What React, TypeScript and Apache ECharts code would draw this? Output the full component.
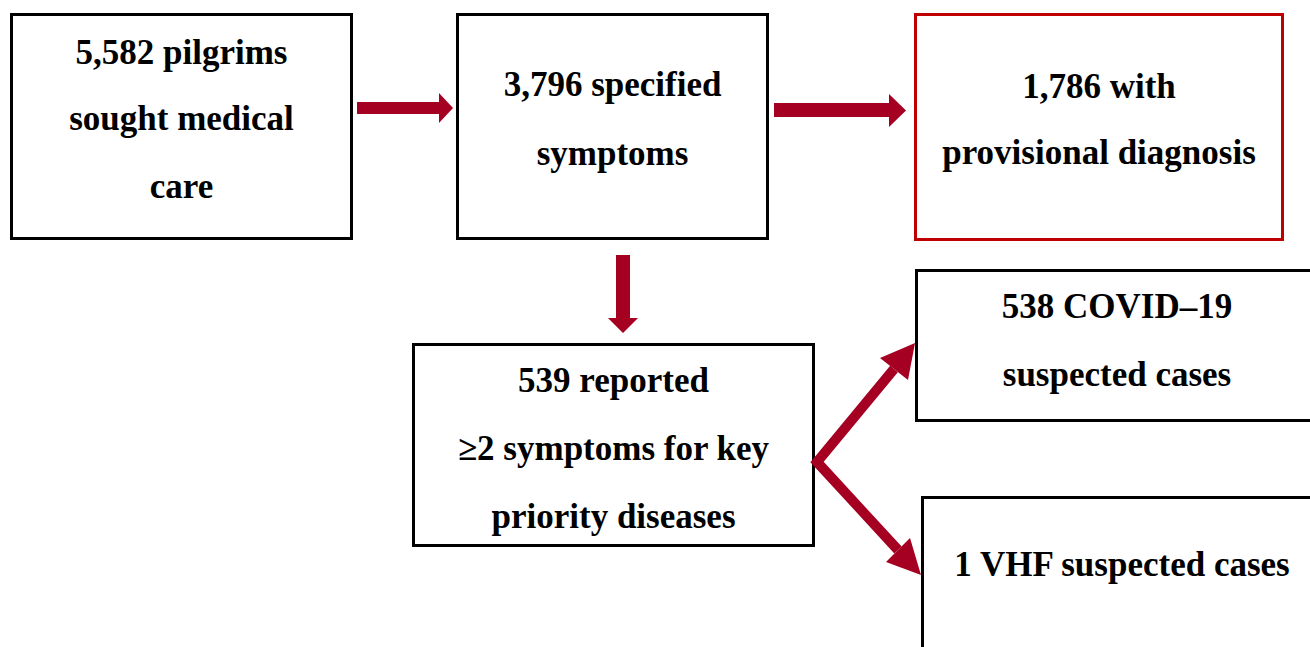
import React, { useEffect, useRef } from "react";
import * as echarts from "echarts";

// Flow chart content
const boxTexts: string[][] = [
  ["5,582 pilgrims", "sought medical", "care"],
  ["3,796 specified", "symptoms"],
  ["1,786 with", "provisional diagnosis"],
  ["539 reported", "\u22652 symptoms for key", "priority diseases"],
  ["538 COVID\u201319", "suspected cases"],
  ["1 VHF suspected cases"],
];
const boxBorderColors = ["#000", "#000", "#c00000", "#000", "#000", "#000"];

// Layout (pixels)
const boxRects = [
  [11.5, 14.5, 340, 224],
  [457.5, 14.5, 310, 224],
  [915.5, 14.5, 367, 225],
  [413.5, 344.5, 400, 201],
  [916.5, 270.5, 410, 150],
  [922.5, 497.5, 410, 200],
];
const lineYs = [
  [52, 118, 186],
  [84, 153],
  [86, 152],
  [380, 448, 516],
  [306, 374],
  [564],
];
const textXs = [181.5, 612.5, 1099, 613.5, 1117, 1122];

const ARROW = "#a50021";

export default function App() {
  const ref = useRef<HTMLDivElement>(null);
  useEffect(() => {
    if (!ref.current) return;
    const chart = echarts.init(ref.current, undefined, { renderer: "svg" });
    const elements: any[] = [];
    boxRects.forEach((r, i) => {
      elements.push({
        type: "rect",
        shape: { x: r[0], y: r[1], width: r[2], height: r[3] },
        style: { fill: "#fff", stroke: boxBorderColors[i], lineWidth: 3 },
      });
    });
    // arrows
    elements.push({
      type: "polygon",
      shape: {
        points: [[357, 102], [439, 102], [439, 93], [453, 108], [439, 123], [439, 114], [357, 114]],
      },
      style: { fill: ARROW },
    });
    elements.push({
      type: "polygon",
      shape: {
        points: [[774, 103], [889, 103], [889, 94], [906, 110.5], [889, 127], [889, 117], [774, 117]],
      },
      style: { fill: ARROW },
    });
    elements.push({
      type: "polygon",
      shape: {
        points: [[616, 255], [630, 255], [630, 318], [638, 318], [623, 333], [608, 318], [616, 318]],
      },
      style: { fill: ARROW },
    });
    elements.push({
      type: "polyline",
      shape: { points: [[894, 369], [817, 462], [898, 550]] },
      style: { stroke: ARROW, lineWidth: 10, lineJoin: "miter", fill: "none" },
    });
    elements.push({
      type: "polygon",
      shape: { points: [[880, 358], [915, 343], [908, 380]] },
      style: { fill: ARROW },
    });
    elements.push({
      type: "polygon",
      shape: { points: [[886, 562], [921, 575], [910, 538]] },
      style: { fill: ARROW },
    });
    boxTexts.forEach((lines, i) => {
      lines.forEach((t, j) => {
        elements.push({
          type: "text",
          x: textXs[i],
          y: lineYs[i][j],
          style: {
            text: t,
            fill: "#000",
            font: "bold 35px 'Liberation Serif', serif",
            align: "center",
            verticalAlign: "middle",
          },
        });
      });
    });
    chart.setOption({ animation: false, graphic: { elements } });
    return () => chart.dispose();
  }, []);
  return (
    <div
      ref={ref}
      style={{ position: "fixed", left: 0, top: 0, width: 1310, height: 647, background: "#fff" }}
    />
  );
}
